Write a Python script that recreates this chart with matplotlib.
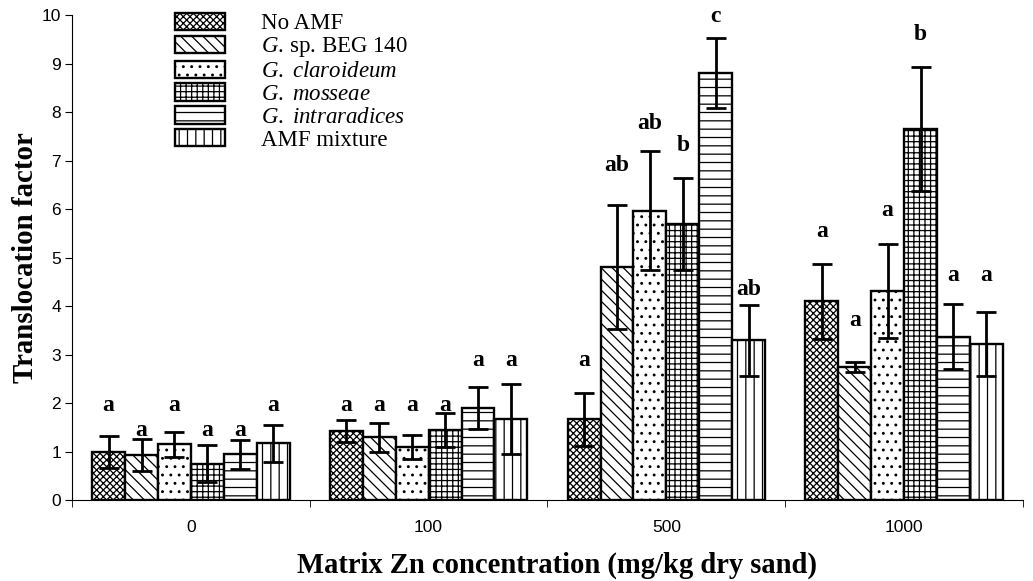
import numpy as np
import matplotlib
matplotlib.use("Agg")
import matplotlib.pyplot as plt
from matplotlib.patches import Patch

plt.rcParams['mathtext.fontset'] = 'custom'
plt.rcParams['mathtext.rm'] = 'Liberation Serif'
plt.rcParams['mathtext.it'] = 'Liberation Serif:italic'
plt.rcParams['hatch.linewidth'] = 0.9

# data
groups = ['0', '100', '500', '1000']
treatments = ['No AMF', r'$\mathit{G.}\,$sp. BEG 140', r'$\mathit{G.\ claroideum}$',
              r'$\mathit{G.\ mosseae}$', r'$\mathit{G.\ intraradices}$', 'AMF mixture']
means = [
    [1.00, 0.93, 1.15, 0.75, 0.95, 1.17],   # No AMF .. AMF mixture at 0
    [1.43, 1.30, 1.10, 1.45, 1.90, 1.68],   # 100
    [1.67, 4.80, 5.97, 5.70, 8.80, 3.30],   # 500
    [4.10, 2.75, 4.32, 7.65, 3.37, 3.22],   # 1000
]
errors = [
    [0.33, 0.33, 0.25, 0.38, 0.30, 0.38],
    [0.22, 0.30, 0.25, 0.35, 0.43, 0.72],
    [0.55, 1.28, 1.23, 0.95, 0.72, 0.73],
    [0.77, 0.10, 0.97, 1.28, 0.67, 0.65],
]
letters = [
    ['a', 'a', 'a', 'a', 'a', 'a'],
    ['a', 'a', 'a', 'a', 'a', 'a'],
    ['a', 'ab', 'ab', 'b', 'c', 'ab'],
    ['a', 'a', 'a', 'b', 'a', 'a'],
]
letter_y = [
    [1.96, 1.44, 1.96, 1.44, 1.44, 1.96],
    [1.96, 1.96, 1.96, 1.96, 2.89, 2.89],
    [2.89, 6.90, 7.77, 7.32, 9.97, 4.35],
    [5.53, 3.71, 5.98, 9.59, 4.64, 4.64],
]
hatches = ['xxxxx', '\\\\\\', '..', '+++', '--', '||']

means = np.array(means)
errors = np.array(errors)

fig = plt.figure(figsize=(10.33, 5.81), dpi=100)
ax = fig.add_axes([0.0697, 0.139, 0.9206, 0.835])

x = np.arange(len(groups))
n = len(treatments)
w = 0.83 / n

for i in range(n):
    pos = x - 0.415 + w * (i + 0.5)
    ax.bar(pos, means[:, i], w, color='white', edgecolor='black',
           hatch=hatches[i], linewidth=1.7, zorder=2)
    ax.errorbar(pos, means[:, i], yerr=errors[:, i], fmt='none', ecolor='black',
                elinewidth=2, capsize=7, capthick=2, zorder=3)
    for g in range(len(groups)):
        ax.text(pos[g], letter_y[g][i], letters[g][i], ha='center', va='center',
                family='Liberation Serif', fontweight='bold', fontsize=17)

ax.set_xlim(-0.5, len(groups) - 0.5)
ax.set_ylim(0, 10)
ax.set_yticks(range(0, 11))
ax.set_xticks(x)
ax.set_xticklabels(groups, family='Liberation Sans', fontsize=12.5)
ax.set_xticks(np.arange(-0.5, len(groups), 1), minor=True)
ax.tick_params(axis='x', which='major', length=0, pad=14)
ax.tick_params(axis='x', which='minor', length=5, direction='out')
ax.tick_params(axis='y', length=5, direction='out', labelsize=12.5, pad=3)
for lab in ax.get_yticklabels():
    lab.set_family('Liberation Sans')
for s in ['top', 'right']:
    ax.spines[s].set_visible(False)
ax.spines['left'].set_linewidth(0.8)
ax.spines['bottom'].set_linewidth(0.8)

ax.set_ylabel('Translocation factor', family='Liberation Serif', fontweight='bold',
              fontsize=20.8)
ax.yaxis.set_label_coords(-0.035, 0.5)
ax.set_xlabel('Matrix Zn concentration (mg/kg dry sand)', family='Liberation Serif',
              fontweight='bold', fontsize=20.6)
ax.xaxis.set_label_coords(0.51, -0.105)

handles = [Patch(facecolor='white', edgecolor='black', hatch=hatches[i], linewidth=1.7)
           for i in range(n)]
leg = ax.legend(handles, treatments, loc='upper left', bbox_to_anchor=(0.108, 1.005),
                frameon=False, prop={'family': 'Liberation Serif', 'size': 16.5},
                handlelength=2.18, handleheight=0.79, handletextpad=1.6,
                labelspacing=0.05, borderpad=0, borderaxespad=0)

fig.savefig('out.png', dpi=100)
